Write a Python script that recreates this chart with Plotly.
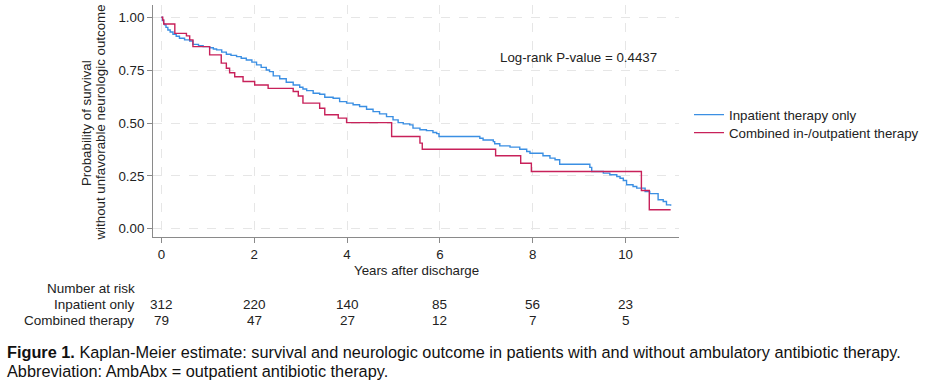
import plotly.graph_objects as go

# ---- data ----
inpatient_t = [0, 0.02, 0.05, 0.07, 0.10, 0.14, 0.19, 0.25, 0.32, 0.39, 0.50, 0.61, 0.68, 0.80, 0.90,
               1.04, 1.12, 1.19, 1.30, 1.40, 1.50, 1.62, 1.72, 1.83, 1.95, 2.05, 2.15, 2.26, 2.33,
               2.41, 2.55, 2.69, 2.84, 2.98, 3.05, 3.13, 3.27, 3.41, 3.52, 3.70, 3.84, 3.99, 4.13,
               4.27, 4.42, 4.56, 4.70, 4.85, 4.99, 5.10, 5.21, 5.35, 5.42, 5.57, 5.71, 5.85, 5.93,
               5.98, 6.86, 6.93, 7.15, 7.18, 7.29, 7.51, 7.72, 7.87, 7.94, 8.22, 8.37, 8.48, 8.58,
               9.23, 9.27, 9.52, 9.66, 9.81, 9.88, 9.95, 10.02, 10.16, 10.24, 10.42, 10.52, 10.70,
               10.81, 10.88, 10.97]
inpatient_s = [1.0, 0.985, 0.970, 0.964, 0.952, 0.940, 0.930, 0.920, 0.910, 0.901, 0.893, 0.888, 0.872,
               0.866, 0.861, 0.856, 0.850, 0.846, 0.835, 0.825, 0.820, 0.814, 0.806, 0.798, 0.788,
               0.775, 0.763, 0.751, 0.743, 0.723, 0.709, 0.693, 0.680, 0.669, 0.661, 0.653, 0.641,
               0.636, 0.622, 0.617, 0.601, 0.594, 0.586, 0.578, 0.565, 0.554, 0.543, 0.530, 0.515,
               0.502, 0.496, 0.491, 0.476, 0.468, 0.464, 0.455, 0.450, 0.436, 0.428, 0.420, 0.412,
               0.402, 0.392, 0.386, 0.376, 0.365, 0.357, 0.345, 0.334, 0.326, 0.305, 0.290, 0.271,
               0.263, 0.255, 0.247, 0.239, 0.228, 0.208, 0.200, 0.192, 0.176, 0.166, 0.137, 0.129,
               0.113, 0.109]

combined_t = [0, 0.03, 0.05, 0.29, 0.54, 0.61, 0.68, 1.04, 1.29, 1.40, 1.47, 1.58, 1.76, 2.01, 2.30,
              2.84, 2.95, 3.05, 3.41, 3.52, 3.81, 3.99, 4.96, 5.57, 5.62, 7.20, 7.74, 7.97, 10.34,
              10.51, 10.97]
combined_s = [1.0, 0.987, 0.968, 0.924, 0.912, 0.893, 0.861, 0.822, 0.783, 0.759, 0.738, 0.719, 0.696,
              0.680, 0.664, 0.649, 0.628, 0.594, 0.570, 0.539, 0.523, 0.502, 0.436, 0.405, 0.376,
              0.345, 0.310, 0.271, 0.181, 0.090, 0.090]

risk_times = [0, 2, 4, 6, 8, 10]
risk_inpatient = [312, 220, 140, 85, 56, 23]
risk_combined = [79, 47, 27, 12, 7, 5]

x_ticks = [0, 2, 4, 6, 8, 10]
y_ticks = [0, 0.25, 0.5, 0.75, 1.0]
y_ticklabels = ["0.00", "0.25", "0.50", "0.75", "1.00"]

series_names = ["Inpatient therapy only", "Combined in-/outpatient therapy"]
row_labels = ["Inpatient only", "Combined therapy"]

BLUE = "#3b8fe3"
RED = "#c8215a"
FONT = "Liberation Sans, Arial, sans-serif"

fig = go.Figure()
fig.add_trace(go.Scatter(x=inpatient_t, y=inpatient_s, mode="lines", line_shape="hv",
                         line=dict(color=BLUE, width=1.4), name=series_names[0], legend="legend"))
fig.add_trace(go.Scatter(x=combined_t, y=combined_s, mode="lines", line_shape="hv",
                         line=dict(color=RED, width=1.4), name=series_names[1], legend="legend2"))

W, H = 930, 381
L, R, T, B = 153, 251, 5, 144
pw, ph = W - L - R, H - T - B

def px(xp):
    return (xp - L) / pw

def py(yp):
    return (H - B - yp) / ph

ann = []
txt = dict(family=FONT, size=13.3, color="#222222")
ann.append(dict(text="Log-rank P-value = 0.4437", x=px(578), y=py(57), xref="paper", yref="paper",
                showarrow=False, font=txt, xanchor="center", yanchor="middle"))
ann.append(dict(text="Probability of survival", x=px(87), y=py(123), xref="paper", yref="paper",
                showarrow=False, font=txt, textangle=-90, xanchor="center", yanchor="middle"))
ann.append(dict(text="without unfavorable neurologic outcome", x=px(100.5), y=py(123), xref="paper",
                yref="paper", showarrow=False, font=txt, textangle=-90, xanchor="center", yanchor="middle"))
ann.append(dict(text="Years after discharge", x=0.5, y=py(270), xref="paper", yref="paper",
                showarrow=False, font=txt, xanchor="center", yanchor="middle"))
tfont = dict(family=FONT, size=13.5, color="#222222")
ann.append(dict(text="Number at risk", x=px(137), y=py(288), xref="paper", yref="paper",
                showarrow=False, font=tfont, xanchor="right", yanchor="middle"))
for lab, yy, vals in [(row_labels[0], 304, risk_inpatient), (row_labels[1], 320, risk_combined)]:
    ann.append(dict(text=lab, x=px(137), y=py(yy), xref="paper", yref="paper",
                    showarrow=False, font=tfont, xanchor="right", yanchor="middle"))
    for t, v in zip(risk_times, vals):
        ann.append(dict(text=str(v), x=t, y=py(yy), xref="x", yref="paper",
                        showarrow=False, font=tfont, xanchor="center", yanchor="middle"))
cfont = dict(family=FONT, size=16.3, color="#111111")
ann.append(dict(text="<b>Figure 1.</b> Kaplan-Meier estimate: survival and neurologic outcome in patients with and without ambulatory antibiotic therapy.",
                x=px(5), y=py(352), xref="paper", yref="paper", showarrow=False, font=cfont,
                xanchor="left", yanchor="middle"))
ann.append(dict(text="Abbreviation: AmbAbx = outpatient antibiotic therapy.",
                x=px(5), y=py(371), xref="paper", yref="paper", showarrow=False, font=cfont,
                xanchor="left", yanchor="middle"))

axcol = "#8a8a8a"
lfont = dict(family=FONT, size=13.3, color="#222222")
leg_common = dict(xref="paper", yref="paper", xanchor="left", yanchor="middle", font=lfont,
                  bgcolor="rgba(0,0,0,0)", itemwidth=30, borderwidth=0)
fig.update_layout(
    width=W, height=H,
    margin=dict(l=L, r=R, t=T, b=B, pad=0),
    paper_bgcolor="white", plot_bgcolor="white",
    showlegend=True,
    legend=dict(x=px(689), y=py(115), **leg_common),
    legend2=dict(x=px(689), y=py(133), **leg_common),
    xaxis=dict(range=[-0.18, 11.15], tickvals=x_ticks, showline=True, linecolor=axcol, linewidth=1,
               ticks="outside", ticklen=5, tickcolor=axcol, showgrid=True, gridcolor="#e6e6e6",
               griddash="dash", gridwidth=1, zeroline=False,
               tickfont=dict(family=FONT, size=13.3, color="#222222")),
    yaxis=dict(range=[-0.039, 1.058], tickvals=y_ticks, ticktext=y_ticklabels, showline=True,
               linecolor=axcol, linewidth=1, ticks="outside", ticklen=5, tickcolor=axcol,
               showgrid=True, gridcolor="#e6e6e6", griddash="dash", gridwidth=1, zeroline=False,
               tickfont=dict(family=FONT, size=13.3, color="#222222")),
    annotations=ann,
)

fig.write_html("out.html", config={"displayModeBar": False},
               post_script="document.body.style.margin='0';")
